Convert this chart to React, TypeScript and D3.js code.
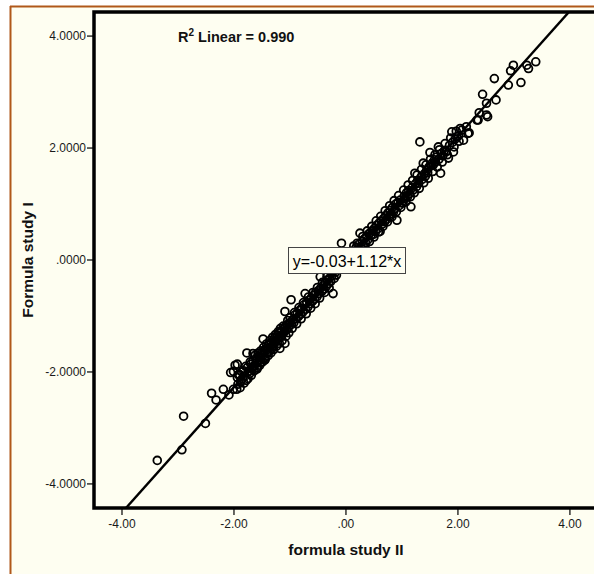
import React from "react";
import * as d3 from "d3";

// formula study II (x) and formula study I (y)
const studyII = [
  -3.37, -2.93, -2.9, -2.51, -2.4, -2.32, -2.19, -2.09, -2.01, -1.95, -2.06, -1.94, -1.88, -1.91,
  -1.98, -2.01, -1.92, -1.77, -1.66, -1.45, -1.48, -1.18, -1.09,
  -1.93, -1.9, -1.88, -1.85, -1.83, -1.8, -1.78, -1.76, -1.74, -1.72, -1.7, -1.68, -1.66, -1.65,
  -1.63, -1.61, -1.6, -1.58, -1.56, -1.55, -1.53, -1.51, -1.5, -1.48, -1.46, -1.45, -1.43, -1.41,
  -1.4, -1.38, -1.37, -1.35, -1.33, -1.32, -1.3, -1.28, -1.27, -1.25, -1.23, -1.22, -1.2, -1.18,
  -1.16, -1.15, -1.13, -1.11, -1.1, -1.08, -1.06, -1.05, -1.03, -1.01,
  -0.98, -1.09, -0.97, -0.95, -0.93, -0.91, -0.89, -0.87, -0.85, -0.83, -0.81, -0.79, -0.77, -0.75,
  -0.73, -0.72, -0.7, -0.68, -0.66, -0.64, -0.62, -0.6, -0.58, -0.56, -0.54, -0.52, -0.5, -0.48,
  -0.46, -0.45, -0.43, -0.41, -0.39, -0.37, -0.35, -0.33, -0.31, -0.29, -0.27, -0.25, -0.23, -0.21,
  -0.19, -0.17, -0.15, -0.08,
  0.12, 0.15, 0.18, 0.21, 0.23, 0.25, 0.27, 0.29, 0.31, 0.33, 0.35, 0.37, 0.39, 0.41, 0.43, 0.45,
  0.47, 0.49, 0.51, 0.53, 0.55, 0.57, 0.59, 0.61, 0.63, 0.65, 0.67, 0.69, 0.71, 0.73, 0.75, 0.77,
  0.79, 0.81, 0.83, 0.85, 0.875, 0.89, 0.91, 0.93, 0.95, 0.97, 0.99, 1.02, 1.04, 1.06,
  1.08, 1.1, 1.12, 1.14, 1.16, 1.18, 1.2, 1.23, 1.24, 1.26, 1.28, 1.3, 1.32, 1.34, 1.36, 1.38,
  1.4, 1.42, 1.44, 1.46, 1.48, 1.5, 1.52, 1.54, 1.56, 1.58, 1.6, 1.62, 1.65, 1.66, 1.69, 1.7,
  1.73, 1.76, 1.79, 1.83, 1.85, 1.89, 1.9, 1.92, 1.95, 1.98, 2.01, 2.04, 2.07, 2.1, 2.15, 2.18, 2.2,
  3.39, 3.23, 3.26, 2.99, 2.94, 2.65, 3.125, 2.9, 2.44, 2.51, 2.68, 2.38, 2.53, 2.34, 2.36, 2.51,
  // second pass over the dense band
  -1.94, -1.89, -1.86, -1.82, -1.79, -1.75, -1.71, -1.69, -1.64, -1.62, -1.59, -1.57, -1.54, -1.52,
  -1.49, -1.47, -1.44, -1.42, -1.39, -1.36, -1.34, -1.31, -1.29, -1.26, -1.24, -1.21, -1.19, -1.17,
  -1.14, -1.12, -1.07, -1.04, -1.02, -1.0,
  -0.96, -0.92, -0.88, -0.84, -0.8, -0.76, -0.71, -0.67, -0.63, -0.59, -0.55, -0.51, -0.47, -0.42,
  -0.38, -0.34, -0.3, -0.26,
  0.14, 0.2, 0.26, 0.3, 0.34, 0.38, 0.42, 0.46, 0.5, 0.54, 0.58, 0.62, 0.66, 0.7, 0.74, 0.78, 0.82,
  0.86, 0.9, 0.94, 0.98,
  1.03, 1.07, 1.11, 1.15, 1.19, 1.22, 1.27, 1.31, 1.35, 1.39, 1.43, 1.47, 1.51, 1.55, 1.59, 1.63,
  1.67, 1.72, 1.77, 1.81, 1.87, 1.93, 1.97, 2.02,
];

const studyI = [
  -3.58, -3.39, -2.79, -2.92, -2.38, -2.5, -2.31, -2.41, -2.31, -2.31, -2.01, -1.86, -2.16, -2.04,
  -1.88, -1.99, -2.05, -1.66, -1.67, -1.79, -1.41, -1.58, -1.49,
  -2.22, -2.05, -2.18, -2.12, -1.98, -2.07, -2.15, -1.92, -1.99, -2.03, -1.86, -1.95, -1.8, -1.9,
  -1.88, -1.76, -1.84, -1.92, -1.71, -1.8, -1.74, -1.83, -1.66, -1.7, -1.62, -1.75, -1.58, -1.66,
  -1.6, -1.52, -1.63, -1.56, -1.47, -1.58, -1.5, -1.4, -1.46, -1.44, -1.35, -1.41, -1.38, -1.3,
  -1.36, -1.27, -1.33, -1.22, -1.28, -1.19, -1.25, -1.16, -1.21, -1.12,
  -0.71, -0.92, -1.15, -1.07, -1.12, -0.98, -1.05, -0.95, -1.01, -0.9, -0.97, -0.86, -0.93, -0.8,
  -0.6, -0.88, -0.76, -0.84, -0.72, -0.78, -0.68, -0.74, -0.63, -0.7, -0.58, -0.66, -0.55, -0.6,
  -0.3, -0.5, -0.56, -0.46, -0.52, -0.4, -0.47, -0.36, -0.42, -0.32, -0.38, -0.28, -0.6, -0.33,
  -0.22, -0.27, -0.17, 0.3,
  0.16, 0.1, 0.22, 0.18, 0.28, 0.48, 0.24, 0.33, 0.27, 0.38, 0.31, 0.42, 0.36, 0.47, 0.48, 0.44,
  0.52, 0.46, 0.57, 0.51, 0.62, 0.56, 0.66, 0.51, 0.69, 0.64, 0.74, 0.68, 0.79, 0.73, 0.84, 0.78,
  0.89, 0.83, 0.94, 0.86, 0.92, 1.0, 0.71, 1.03, 0.97, 1.07, 1.02, 1.02, 1.14, 1.1,
  1.2, 1.13, 1.24, 1.19, 0.95, 1.29, 1.25, 1.55, 1.36, 1.31, 1.42, 1.37, 2.11, 1.48, 1.44, 1.73,
  1.54, 1.5, 1.6, 1.56, 1.66, 1.92, 1.68, 1.73, 1.7, 1.79, 1.75, 1.84, 2.02, 1.8, 1.55, 1.9,
  1.86, 1.96, 1.93, 1.82, 2.05, 2.29, 2.1, 1.93, 2.16, 2.2, 2.22, 2.35, 2.32, 2.14, 2.38, 2.26, 2.27,
  3.54, 3.48, 3.42, 3.48, 3.38, 3.24, 3.17, 3.125, 2.96, 2.8, 2.86, 2.63, 2.56, 2.5, 2.5, 2.59,
  -2.1, -2.28, -2.0, -2.2, -1.9, -2.12, -1.82, -2.06, -1.98, -1.7, -1.95, -1.66, -1.88, -1.62,
  -1.82, -1.56, -1.77, -1.5, -1.71, -1.44, -1.66, -1.38, -1.6, -1.33, -1.54, -1.28, -1.49, -1.22,
  -1.44, -1.18, -1.36, -1.08, -1.3, -1.03,
  -1.22, -0.94, -1.14, -0.85, -1.05, -0.76, -0.96, -0.66, -0.86, -0.58, -0.78, -0.49, -0.68, -0.4,
  -0.58, -0.3, -0.5, -0.22,
  0.25, 0.3, 0.15, 0.42, 0.24, 0.52, 0.33, 0.6, 0.41, 0.7, 0.5, 0.78, 0.6, 0.88, 0.68, 0.97, 0.77,
  1.06, 0.86, 1.15, 0.94,
  1.25, 1.04, 1.34, 1.13, 1.42, 1.2, 1.52, 1.28, 1.62, 1.38, 1.7, 1.46, 1.8, 1.58, 1.88, 1.66,
  1.97, 1.75, 2.08, 1.88, 2.18, 2.02, 2.3, 2.12,
];

const xTicks = [-4, -2, 0, 2, 4];
const yTicks = [-4, -2, 0, 2, 4];
const intercept = -0.03;
const slope = 1.12;

// SPSS style: leading zero dropped for 0, plain hyphen minus
const fmtX = (v: number) => (v === 0 ? ".00" : v.toFixed(2));
const fmtY = (v: number) => (v === 0 ? ".0000" : v.toFixed(4));

export default function App() {
  const width = 594;
  const height = 574;
  const left = 94;
  const top = 12;
  const bottom = 508;

  const x = d3.scaleLinear().domain([-4.5, 4.43]).range([left, width]);
  const y = d3.scaleLinear().domain([-4.43, 4.43]).range([bottom, top]);

  const points = studyII.map((v, i) => [v, studyI[i]]);
  const fitLine = d3.line<number>()
    .x(d => x(d))
    .y(d => y(intercept + slope * d));

  const font = "Arial, 'Liberation Sans', sans-serif";

  return (
    <svg
      width={width}
      height={height}
      style={{ position: "absolute", left: 0, top: 0 }}
      fontFamily={font}
    >
      <rect width={width} height={height} fill="#ffffff" />
      <rect x={11} y={7} width={width - 11} height={height - 7} fill="#fefef1" />
      <line x1={10.5} y1={6} x2={10.5} y2={height} stroke="#b0581a" strokeWidth={2} />
      <line x1={10} y1={6.5} x2={width} y2={6.5} stroke="#b0581a" strokeWidth={2} />

      <defs>
        <clipPath id="plot">
          <rect x={left} y={top} width={width - left} height={bottom - top} />
        </clipPath>
      </defs>

      <g clipPath="url(#plot)">
        {points.map(([a, b], i) => (
          <circle key={i} cx={x(a)} cy={y(b)} r={3.9} fill="none" stroke="#000" strokeWidth={1.8} />
        ))}
        <path d={fitLine([-4.5, 4.43]) ?? ""} fill="none" stroke="#000" strokeWidth={2.4} />
      </g>

      {/* frame */}
      <path
        d={`M${width},${top}H${left}V${bottom}H${width}`}
        fill="none"
        stroke="#000"
        strokeWidth={3.5}
      />

      {yTicks.map(t => (
        <g key={t} transform={`translate(0,${y(t)})`}>
          <line x1={left - 7} x2={left} stroke="#000" strokeWidth={1.2} />
          <text x={left - 8} dy="0.35em" textAnchor="end" fontSize={12} fill="#1a1a1a">
            {fmtY(t)}
          </text>
        </g>
      ))}

      {xTicks.map(t => (
        <g key={t} transform={`translate(${x(t)},0)`}>
          <line y1={bottom} y2={bottom + 7} stroke="#000" strokeWidth={1.2} />
          <text y={bottom + 16} dy="0.35em" textAnchor="middle" fontSize={12} fill="#1a1a1a">
            {fmtX(t)}
          </text>
        </g>
      ))}

      <text x={x(0)} y={555} textAnchor="middle" fontSize={15.5} fontWeight="bold" fill="#111">
        formula study II
      </text>
      <text
        transform={`translate(33,${y(0)}) rotate(-90)`}
        textAnchor="middle"
        fontSize={15.5}
        fontWeight="bold"
        fill="#111"
      >
        Formula study I
      </text>

      <text x={178} y={42} fontSize={14.5} fontWeight="bold" fill="#111">
        R<tspan dy={-6} fontSize={10}>2</tspan>
        <tspan dy={6}> Linear = 0.990</tspan>
      </text>

      <rect x={288.5} y={247.5} width={117} height={26} fill="#fefef1" stroke="#444" strokeWidth={1} />
      <text x={347} y={261} dy="0.35em" textAnchor="middle" fontSize={16} fill="#000">
        y=-0.03+1.12*x
      </text>
    </svg>
  );
}
